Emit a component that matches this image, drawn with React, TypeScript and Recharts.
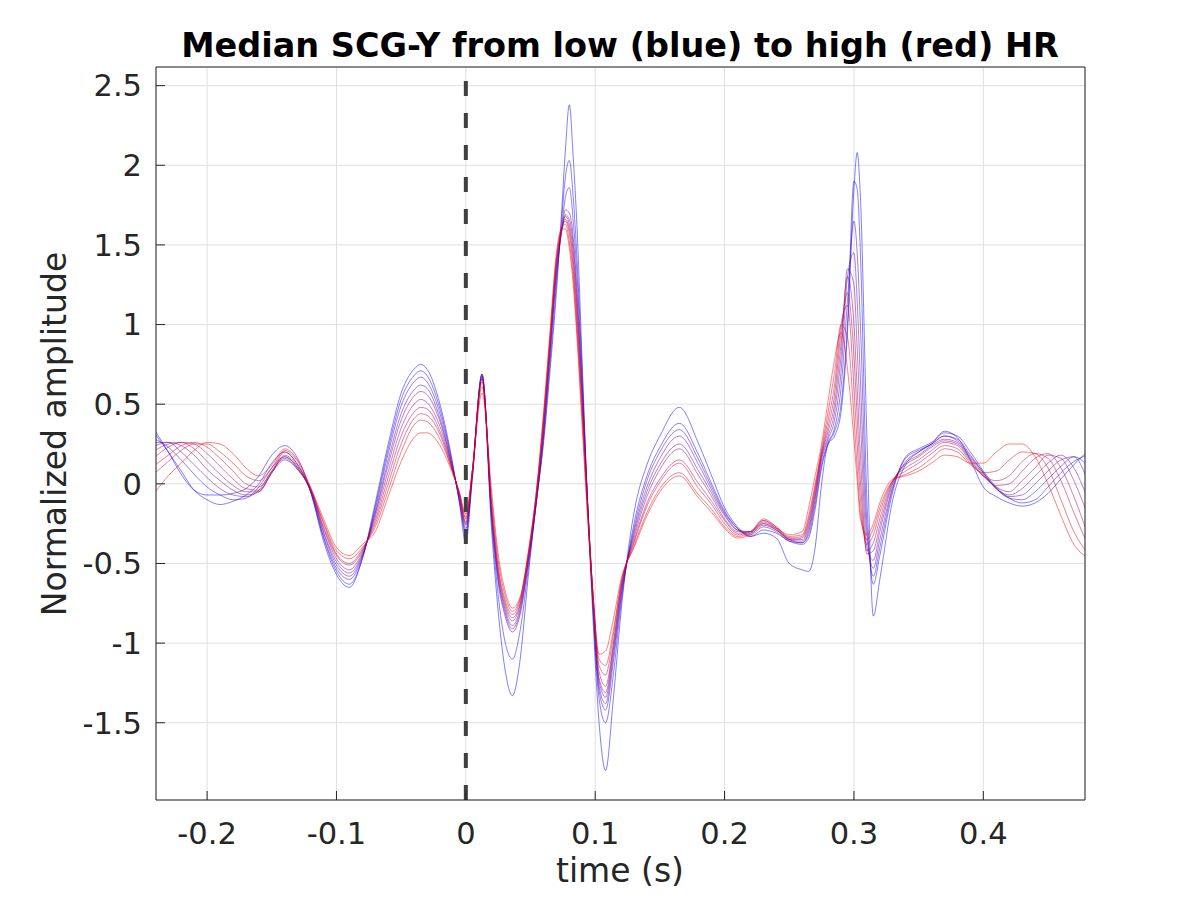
import React from 'react';
import { LineChart, Line, XAxis, YAxis, CartesianGrid, ReferenceLine } from 'recharts';

// time axis (s)
const time = [
  -0.24, -0.23, -0.22, -0.21, -0.2, -0.19, -0.18, -0.17, -0.16, -0.15, -0.14,
  -0.13, -0.12, -0.11, -0.1, -0.09, -0.08, -0.07, -0.06, -0.05, -0.04, -0.035, -0.03, -0.02, -0.01, -0.005, 0,
  0.005, 0.0125, 0.02, 0.025, 0.03, 0.036, 0.042, 0.048, 0.054, 0.06, 0.065, 0.07, 0.074, 0.077, 0.08, 0.083, 0.086, 0.09, 0.094, 0.098, 0.103, 0.108, 0.114, 0.12,
  0.13, 0.14, 0.15, 0.165, 0.18, 0.19, 0.2, 0.21, 0.22, 0.23, 0.24, 0.25,
  0.26, 0.265, 0.27, 0.275, 0.28, 0.285, 0.29, 0.295, 0.3, 0.3025, 0.305, 0.31, 0.315, 0.32, 0.33,
  0.34, 0.35, 0.36, 0.37, 0.38, 0.39, 0.4, 0.41, 0.42, 0.43, 0.44, 0.45, 0.46, 0.47, 0.48,
];

// median SCG-Y per HR bin, from low HR (blue) to high HR (red)
const hrBin1 = [
  0.33, 0.2, 0.06, -0.04, -0.07, -0.07, -0.06, -0.03, 0.05, 0.18, 0.24,
  0.16, -0.05, -0.36, -0.57, -0.65, -0.47, -0.12, 0.25, 0.57, 0.72, 0.75, 0.72, 0.5, 0.12, -0.12, -0.37,
  0.03, 0.66, -0.3, -0.8, -1.15, -1.33, -1.1, -0.6, -0.15, 0.25, 0.7, 1.2, 1.7, 2.1, 2.38, 2.05, 1.6, 0.75, -0.1, -0.8, -1.5, -1.8, -1.35, -0.8,
  -0.18, 0.12, 0.3, 0.48, 0.25, 0.05, -0.15, -0.27, -0.33, -0.31, -0.34, -0.5,
  -0.54, -0.55, -0.4, 0.0, 0.25, 0.3, 0.45, 0.95, 1.85, 2.08, 1.8, 0.3, -0.83, -0.6, -0.1,
  0.12, 0.2, 0.25, 0.33, 0.29, 0.15, -0.02, -0.08, -0.12, -0.14, -0.12, -0.06, 0.03, 0.12, 0.2,
];
const hrBin2 = [
  0.31, 0.2, 0.08, -0.04, -0.1, -0.13, -0.11, -0.07, 0.0, 0.13, 0.2,
  0.12, -0.05, -0.34, -0.55, -0.63, -0.47, -0.14, 0.22, 0.53, 0.68, 0.71, 0.68, 0.47, 0.11, -0.11, -0.32,
  0.04, 0.69, -0.25, -0.7, -0.98, -1.1, -0.92, -0.55, -0.15, 0.28, 0.75, 1.25, 1.65, 1.93, 2.03, 1.8, 1.4, 0.68, -0.1, -0.75, -1.35, -1.5, -1.2, -0.75,
  -0.25, 0.05, 0.23, 0.38, 0.18, 0.0, -0.17, -0.28, -0.33, -0.29, -0.31, -0.36,
  -0.38, -0.34, -0.16, 0.1, 0.25, 0.33, 0.5, 1.0, 1.9, 1.85, 1.45, -0.1, -0.63, -0.45, -0.05,
  0.17, 0.22, 0.26, 0.32, 0.3, 0.2, 0.08, -0.02, -0.09, -0.12, -0.1, -0.02, 0.07, 0.14, 0.18,
];
const hrBin3 = [
  0.28, 0.23, 0.15, 0.06, -0.02, -0.07, -0.1, -0.09, -0.02, 0.1, 0.17,
  0.1, -0.05, -0.33, -0.53, -0.6, -0.46, -0.16, 0.19, 0.49, 0.64, 0.67, 0.64, 0.44, 0.1, -0.1, -0.3,
  0.05, 0.69, -0.22, -0.62, -0.82, -0.93, -0.82, -0.52, -0.15, 0.3, 0.8, 1.3, 1.6, 1.8, 1.86, 1.65, 1.3, 0.62, -0.1, -0.72, -1.3, -1.42, -1.12, -0.72,
  -0.28, 0.02, 0.2, 0.34, 0.15, -0.02, -0.18, -0.28, -0.32, -0.27, -0.3, -0.36,
  -0.37, -0.32, -0.13, 0.12, 0.26, 0.35, 0.6, 1.15, 1.65, 1.45, 1.0, -0.25, -0.58, -0.4, -0.03,
  0.16, 0.21, 0.25, 0.3, 0.28, 0.18, 0.07, -0.03, -0.09, -0.1, -0.05, 0.03, 0.11, 0.17, 0.12,
];
const hrBin4 = [
  0.26, 0.26, 0.2, 0.12, 0.04, -0.03, -0.07, -0.08, -0.04, 0.08, 0.16,
  0.09, -0.04, -0.31, -0.51, -0.58, -0.45, -0.18, 0.15, 0.44, 0.59, 0.62, 0.6, 0.41, 0.09, -0.09, -0.28,
  0.06, 0.68, -0.2, -0.6, -0.8, -0.91, -0.8, -0.5, -0.14, 0.32, 0.82, 1.32, 1.58, 1.72, 1.7, 1.55, 1.2, 0.58, -0.1, -0.7, -1.27, -1.38, -1.08, -0.7,
  -0.3, -0.02, 0.16, 0.3, 0.12, -0.04, -0.19, -0.29, -0.31, -0.26, -0.29, -0.35,
  -0.37, -0.3, -0.1, 0.15, 0.28, 0.4, 0.7, 1.3, 1.45, 1.15, 0.65, -0.33, -0.53, -0.35, -0.02,
  0.14, 0.2, 0.25, 0.3, 0.27, 0.17, 0.07, -0.03, -0.08, -0.07, 0.0, 0.08, 0.15, 0.17, 0.03,
];
const hrBin5 = [
  0.24, 0.26, 0.24, 0.18, 0.09, 0.02, -0.04, -0.07, -0.05, 0.07, 0.15,
  0.09, -0.04, -0.3, -0.49, -0.56, -0.44, -0.19, 0.12, 0.4, 0.55, 0.58, 0.56, 0.39, 0.09, -0.08, -0.26,
  0.07, 0.68, -0.19, -0.58, -0.78, -0.89, -0.78, -0.49, -0.13, 0.34, 0.84, 1.35, 1.58, 1.69, 1.66, 1.5, 1.15, 0.55, -0.1, -0.68, -1.24, -1.34, -1.05, -0.68,
  -0.32, -0.05, 0.12, 0.25, 0.08, -0.06, -0.2, -0.29, -0.3, -0.25, -0.29, -0.35,
  -0.36, -0.28, -0.08, 0.17, 0.3, 0.45, 0.8, 1.35, 1.25, 0.85, 0.4, -0.4, -0.48, -0.3, 0.0,
  0.13, 0.18, 0.24, 0.28, 0.26, 0.16, 0.06, -0.03, -0.07, -0.03, 0.05, 0.13, 0.18, 0.1, -0.08,
];
const hrBin6 = [
  0.21, 0.25, 0.26, 0.22, 0.14, 0.06, -0.01, -0.05, -0.05, 0.07, 0.17,
  0.1, -0.04, -0.28, -0.47, -0.54, -0.43, -0.21, 0.08, 0.35, 0.5, 0.53, 0.51, 0.36, 0.08, -0.07, -0.25,
  0.08, 0.67, -0.18, -0.56, -0.76, -0.86, -0.76, -0.48, -0.12, 0.36, 0.86, 1.37, 1.59, 1.68, 1.63, 1.45, 1.1, 0.52, -0.1, -0.67, -1.22, -1.31, -1.02, -0.66,
  -0.34, -0.08, 0.09, 0.22, 0.05, -0.08, -0.22, -0.3, -0.3, -0.24, -0.28, -0.34,
  -0.35, -0.26, -0.06, 0.18, 0.33, 0.5, 0.88, 1.3, 1.0, 0.6, 0.18, -0.44, -0.42, -0.26, 0.01,
  0.12, 0.17, 0.23, 0.27, 0.25, 0.15, 0.05, -0.02, -0.05, 0.02, 0.1, 0.18, 0.16, 0.02, -0.18,
];
const hrBin7 = [
  0.17, 0.23, 0.26, 0.25, 0.19, 0.11, 0.03, -0.03, -0.04, 0.07, 0.18,
  0.11, -0.03, -0.27, -0.45, -0.51, -0.42, -0.23, 0.04, 0.3, 0.45, 0.48, 0.47, 0.33, 0.08, -0.07, -0.24,
  0.08, 0.66, -0.16, -0.54, -0.74, -0.84, -0.75, -0.47, -0.11, 0.38, 0.88, 1.38, 1.6, 1.66, 1.6, 1.4, 1.05, 0.48, -0.12, -0.66, -1.18, -1.27, -1.0, -0.65,
  -0.36, -0.12, 0.03, 0.15, 0.0, -0.11, -0.23, -0.31, -0.3, -0.23, -0.28, -0.35,
  -0.34, -0.24, -0.04, 0.19, 0.36, 0.56, 0.95, 1.2, 0.8, 0.42, 0.02, -0.42, -0.37, -0.22, 0.02,
  0.1, 0.15, 0.21, 0.26, 0.24, 0.14, 0.05, -0.01, 0.0, 0.08, 0.16, 0.19, 0.1, -0.08, -0.3,
];
const hrBin8 = [
  0.12, 0.18, 0.24, 0.26, 0.23, 0.16, 0.08, 0.0, -0.02, 0.08, 0.2,
  0.12, -0.03, -0.25, -0.44, -0.5, -0.41, -0.25, 0.0, 0.25, 0.41, 0.44, 0.43, 0.31, 0.07, -0.06, -0.22,
  0.08, 0.64, -0.13, -0.52, -0.72, -0.82, -0.73, -0.46, -0.1, 0.4, 0.9, 1.4, 1.6, 1.65, 1.57, 1.35, 1.0, 0.45, -0.14, -0.66, -1.14, -1.2, -0.95, -0.63,
  -0.37, -0.14, 0.01, 0.13, -0.03, -0.13, -0.25, -0.32, -0.3, -0.22, -0.27, -0.34,
  -0.33, -0.22, -0.02, 0.2, 0.4, 0.62, 1.0, 1.12, 0.6, 0.25, -0.1, -0.38, -0.32, -0.18, 0.02,
  0.08, 0.13, 0.19, 0.24, 0.22, 0.13, 0.05, 0.02, 0.05, 0.14, 0.19, 0.16, 0.02, -0.18, -0.37,
];
const hrBin9 = [
  0.07, 0.14, 0.21, 0.25, 0.25, 0.2, 0.13, 0.05, 0.02, 0.1, 0.21,
  0.14, -0.03, -0.24, -0.42, -0.47, -0.4, -0.27, -0.04, 0.2, 0.37, 0.4, 0.39, 0.28, 0.07, -0.06, -0.21,
  0.08, 0.61, -0.1, -0.48, -0.69, -0.8, -0.72, -0.45, -0.09, 0.42, 0.92, 1.42, 1.6, 1.63, 1.52, 1.3, 0.95, 0.4, -0.17, -0.66, -1.1, -1.14, -0.92, -0.62,
  -0.39, -0.18, -0.03, 0.07, -0.07, -0.16, -0.27, -0.33, -0.31, -0.23, -0.27, -0.33,
  -0.32, -0.2, 0.0, 0.22, 0.45, 0.7, 1.0, 0.92, 0.42, 0.1, -0.18, -0.35, -0.28, -0.15, 0.02,
  0.06, 0.1, 0.16, 0.22, 0.2, 0.12, 0.07, 0.08, 0.15, 0.2, 0.19, 0.1, -0.1, -0.3, -0.43,
];
const hrBin10 = [
  -0.05, 0.05, 0.13, 0.21, 0.26, 0.25, 0.19, 0.1, 0.05, 0.12, 0.22,
  0.15, -0.02, -0.22, -0.4, -0.45, -0.38, -0.3, -0.08, 0.14, 0.29, 0.32, 0.32, 0.24, 0.06, -0.05, -0.19,
  0.08, 0.57, -0.05, -0.44, -0.66, -0.78, -0.71, -0.44, -0.08, 0.44, 0.95, 1.45, 1.6, 1.6, 1.48, 1.25, 0.9, 0.35, -0.2, -0.66, -1.07, -1.05, -0.85, -0.6,
  -0.4, -0.2, -0.05, 0.05, -0.09, -0.18, -0.28, -0.34, -0.32, -0.25, -0.28, -0.32,
  -0.3, -0.15, 0.05, 0.25, 0.52, 0.78, 0.95, 0.72, 0.28, 0.02, -0.22, -0.32, -0.25, -0.12, 0.03,
  0.05, 0.08, 0.13, 0.18, 0.17, 0.13, 0.13, 0.2, 0.25, 0.25, 0.17, 0.0, -0.2, -0.38, -0.46,
];

const xTicks = [-0.2, -0.1, 0, 0.1, 0.2, 0.3, 0.4];
const yTicks = [-1.5, -1, -0.5, 0, 0.5, 1, 1.5, 2, 2.5];

const titleText = 'Median SCG-Y from low (blue) to high (red) HR';
const xLabelText = 'time (s)';
const yLabelText = 'Normalized amplitude';

const seriesList = [hrBin1, hrBin2, hrBin3, hrBin4, hrBin5, hrBin6, hrBin7, hrBin8, hrBin9, hrBin10];

const data = time.map((t, i) => {
  const row: Record<string, number> = { t };
  seriesList.forEach((s, k) => {
    row[`s${k}`] = s[i];
  });
  return row;
});

const n = seriesList.length - 1;
const colorOf = (k: number) =>
  `rgb(${Math.round((255 * k) / n)},0,${Math.round((255 * (n - k)) / n)})`;

const FONT = '"DejaVu Sans", sans-serif';
const AX = '#262626';
const X_DOMAIN: [number, number] = [-0.2395, 0.4786];
const Y_DOMAIN: [number, number] = [-1.985, 2.617];

export default function App() {
  return (
    <div style={{ position: 'absolute', left: 0, top: 0, width: 1200, height: 900, background: '#fff' }}>
      <LineChart width={1200} height={900} data={data} margin={{ top: 0, right: 0, bottom: 0, left: 0 }}>
        <CartesianGrid stroke="#dfdfdf" strokeWidth={1} />
        <XAxis
          dataKey="t"
          type="number"
          domain={X_DOMAIN}
          allowDataOverflow
          ticks={xTicks}
          interval={0}
          height={100}
          tickSize={-9}
          tickMargin={31}
          stroke={AX}
          tick={{ fill: AX, fontSize: 30.5, fontFamily: FONT }}
        />
        <XAxis
          xAxisId="top"
          orientation="top"
          dataKey="t"
          type="number"
          domain={X_DOMAIN}
          allowDataOverflow
          ticks={xTicks}
          interval={0}
          height={67}
          tickSize={-9}
          tick={false}
          stroke={AX}
        />
        <YAxis
          type="number"
          domain={Y_DOMAIN}
          allowDataOverflow
          ticks={yTicks}
          interval={0}
          width={156}
          tickSize={-9}
          tickMargin={23}
          stroke={AX}
          tick={{ fill: AX, fontSize: 30.5, fontFamily: FONT }}
        />
        <YAxis
          yAxisId="right"
          orientation="right"
          type="number"
          domain={Y_DOMAIN}
          allowDataOverflow
          ticks={yTicks}
          interval={0}
          width={115}
          tickSize={-9}
          tick={false}
          stroke={AX}
        />
        {seriesList.map((_, k) => (
          <Line
            key={k}
            dataKey={`s${k}`}
            type="monotone"
            stroke={colorOf(k)}
            strokeOpacity={0.5}
            strokeWidth={1}
            dot={false}
            activeDot={false}
            isAnimationActive={false}
          />
        ))}
        <ReferenceLine x={0} stroke="#404040" strokeWidth={4} strokeDasharray="15 17" />
      </LineChart>
      <svg
        width={1200}
        height={900}
        style={{ position: 'absolute', left: 0, top: 0, pointerEvents: 'none' }}
      >
        <text x={620} y={57} textAnchor="middle" fontSize={33.5} fontWeight="bold" fontFamily={FONT} fill="#000">
          {titleText}
        </text>
        <text x={620} y={882} textAnchor="middle" fontSize={33} fontFamily={FONT} fill={AX}>
          {xLabelText}
        </text>
        <text
          transform="translate(66,434) rotate(-90)"
          textAnchor="middle"
          fontSize={33}
          fontFamily={FONT}
          fill={AX}
        >
          {yLabelText}
        </text>
      </svg>
    </div>
  );
}
